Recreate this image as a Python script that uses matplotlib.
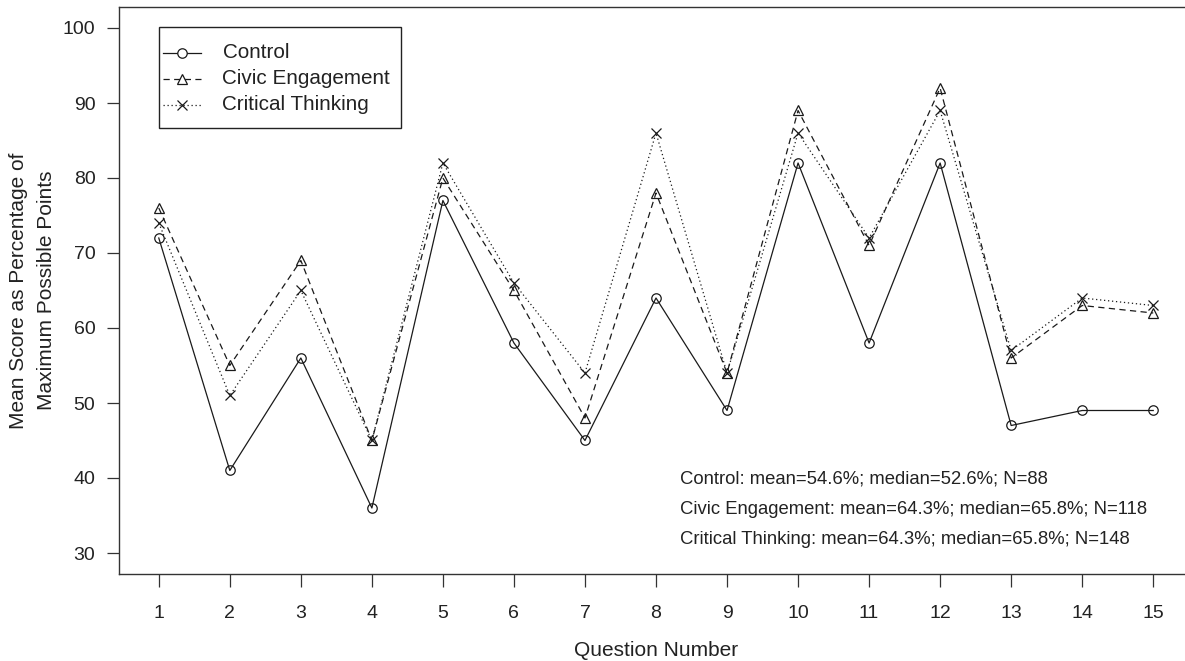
import matplotlib
matplotlib.use("Agg")
import matplotlib.pyplot as plt
from matplotlib.lines import Line2D
from matplotlib.patches import Rectangle

plt.rcParams['font.family'] = ['Liberation Sans', 'DejaVu Sans']

questions = list(range(1, 16))
control = [72, 41, 56, 36, 77, 58, 45, 64, 49, 82, 58, 82, 47, 49, 49]
civic = [76, 55, 69, 45, 80, 65, 48, 78, 54, 89, 71, 92, 56, 63, 62]
critical = [74, 51, 65, 45, 82, 66, 54, 86, 54, 86, 72, 89, 57, 64, 63]
series_names = ["Control", "Civic Engagement", "Critical Thinking"]
stats_lines = [
    "Control: mean=54.6%; median=52.6%; N=88",
    "Civic Engagement: mean=64.3%; median=65.8%; N=118",
    "Critical Thinking: mean=64.3%; median=65.8%; N=148",
]
yticks = [30, 40, 50, 60, 70, 80, 90, 100]

W, H = 1185, 661
fig = plt.figure(figsize=(W / 100, H / 100), dpi=100)
left, right, top, bottom = 119, 1193, 7, 574
ax = fig.add_axes([left / W, 1 - bottom / H, (right - left) / W, (bottom - top) / H])

col = '#1a1a1a'
txtcol = '#222222'
lw = 0.9
styles = [
    dict(linestyle='-', marker='o', ms=6.8),
    dict(linestyle=(0, (5, 3.5)), marker='^', ms=7.5),
    dict(linestyle=(0, (1, 2.2)), marker='x', ms=7.0),
]
for ys, st, name in zip([control, civic, critical], styles, series_names):
    ax.plot(questions, ys, color=col, lw=lw, mfc='none', mec=col, mew=0.9,
            label=name, **st)

ax.set_xlim(0.44, 15.56)
ax.set_ylim(27.2, 102.8)
ax.set_xticks(questions)
ax.set_yticks(yticks)
ax.tick_params(axis='both', direction='out', length=9, width=0.9, color='#333333',
               labelsize=14, labelcolor=txtcol)
ax.tick_params(axis='x', pad=13)
ax.tick_params(axis='y', pad=8)
for s in ax.spines.values():
    s.set_color('#333333')
    s.set_linewidth(1.0)

ax.set_xlabel("Question Number", fontsize=15, color=txtcol, labelpad=14)
ax.set_ylabel("Mean Score as Percentage of\nMaximum Possible Points", fontsize=15,
              color=txtcol, labelpad=5, linespacing=1.6)

def fx(px):
    return px / W

def fy(py):
    return 1 - py / H

fig.patches.append(Rectangle((fx(158.7), fy(127.5)), fx(400.7) - fx(158.7),
                             fy(27.5) - fy(127.5), transform=fig.transFigure,
                             fill=False, edgecolor=txtcol, lw=1.0, zorder=5))
row_y = [53, 79, 105]
for yy, st, name in zip(row_y, styles, series_names):
    fig.add_artist(Line2D([fx(163), fx(201)], [fy(yy), fy(yy)], transform=fig.transFigure,
                          color=col, lw=lw, linestyle=st['linestyle']))
    fig.add_artist(Line2D([fx(182)], [fy(yy)], transform=fig.transFigure, color=col,
                          marker=st['marker'], ms=st['ms'], mfc='white', mec=col,
                          mew=0.9, linestyle='none'))
    fig.text(fx(222.5), fy(yy), name, fontsize=14.9, va='center', ha='left', color=txtcol)

for i, s in enumerate(stats_lines):
    fig.text(fx(680), fy(479 + i * 30.5), s, fontsize=13.3, va='center', ha='left',
             color=txtcol)

fig.savefig("out.png", dpi=100)
